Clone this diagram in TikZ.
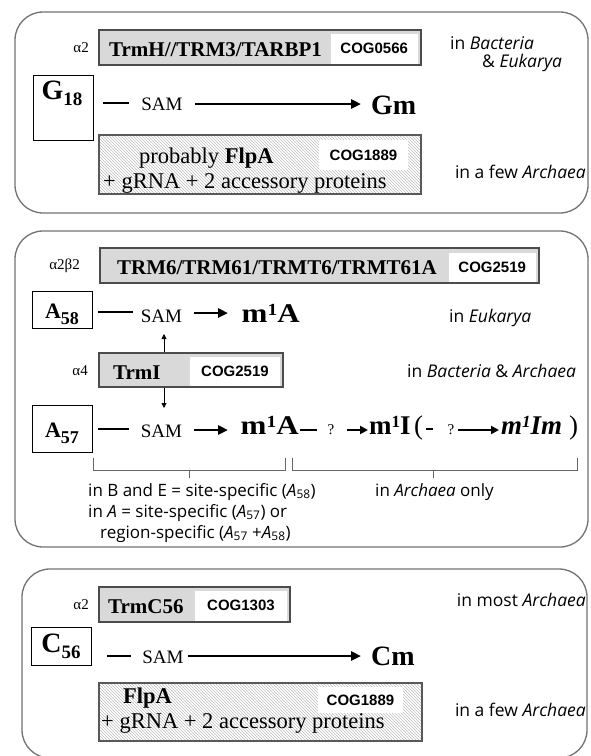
\documentclass[tikz,border=0pt]{standalone}
\usepackage{fontspec}
\setmainfont{Liberation Serif}
\newfontfamily\cogfam{Liberation Sans}
\newfontfamily\comicfam{Open Sans}
\usetikzlibrary{arrows.meta,patterns,fit}
\newcommand{\setfs}[1]{\fontsize{#1}{#1}\selectfont}
\tikzset{
 panel/.style={draw=black!55, line width=1.3pt, rounded corners=28pt, inner sep=0pt},
 graybox/.style={draw=black!70, fill=black!15, line width=1.3pt, inner sep=0pt},
 whitebox/.style={fill=white, inner sep=0pt},
 cog/.style={font=\cogfam\bfseries\setfs{15}, inner sep=0pt},
 hatchbox/.style={draw=black!65, line width=1.3pt, pattern=north west lines, pattern color=black!25, inner sep=0pt},
 sitebox/.style={draw=black, line width=0.9pt, fill=white, inner sep=0pt},
 enz/.style={font=\bfseries\setfs{21}, inner sep=0pt},
 prod/.style={font=\bfseries\setfs{27}, inner sep=0pt},
 big/.style={font=\bfseries\setfs{28}, inner sep=0pt},
 samt/.style={font=\setfs{19}, inner sep=0pt},
 greek/.style={font=\setfs{15}, inner sep=0pt},
 where/.style={font=\comicfam\setfs{17.5}, inner sep=0pt},
 note/.style={font=\comicfam\setfs{17}, inner sep=0pt},
 hatcht/.style={font=\setfs{22.5}, inner sep=0pt},
 qm/.style={font=\setfs{15}, inner sep=0pt},
 bar/.style={line width=2.8pt},
 rxn/.style={line width=2.8pt, -{Triangle[length=10pt,width=9pt]}},
 srxn/.style={line width=2.6pt, -{Triangle[length=8pt,width=8pt]}},
 vline/.style={line width=0.8pt, -{Triangle[length=5pt,width=5pt]}},
 brk/.style={draw=black!60, line width=0.9pt},
}
\begin{document}
\begin{tikzpicture}[x=1pt,y=-1pt]
\useasboundingbox (0,0) rectangle (590,756);
\fill[white] (0,0) rectangle (590,756);

% ---------------- Panel 1
\node[panel, fit={(15,12)(588,213)}] (p1) {};
\node[greek, anchor=east] (al1) at (89,47.5) {α2};
\node[graybox, fit={(99,30)(421,65)}] (e1) {};
\node[whitebox, fit={(331,34)(417.5,63.5)}] (w1) {};
\node[cog] (c1) at (w1.center) {COG0566};
\node[enz, anchor=base west] (e1t) at (109,56.5) {TrmH//TRM3/TARBP1};
\node[where, anchor=west] (sp1a) at (450,43.5) {in \textit{Bacteria}};
\node[where, anchor=west] (sp1b) at (482,63) {\& \textit{Eukarya}};
\node[sitebox, fit={(33,75)(93,140)}] (s1) {};
\node[big, anchor=base] (s1t) at (62,99) {G\lower6pt\hbox{\setfs{19}18}};
\coordinate (b1a) at (103,103); \coordinate (b1b) at (129,103);
\draw[bar] (b1a) -- (b1b);
\node[samt, anchor=base] (sam1) at (162,110) {SAM};
\coordinate (r1a) at (195,104); \coordinate (r1b) at (361,104);
\draw[rxn] (r1a) -- (r1b);
\node[big, anchor=base west] (pr1) at (371,114) {Gm};
\node[hatchbox, fit={(99,135)(421,194)}] (h1) {};
\node[whitebox, fit={(319,140)(408,170)}] (w1b) {};
\node[cog] (c1b) at (w1b.center) {COG1889};
\node[hatcht, anchor=base west] (h1a) at (139,163) {probably \textbf{FlpA}};
\node[hatcht, anchor=base west] (h1b) at (103,188) {+ gRNA + 2 accessory proteins};
\node[where, anchor=east] (sp1c) at (586,172) {in a few \textit{Archaea}};

% ---------------- Panel 2
\node[panel, fit={(15,231)(588,547)}] (p2) {};
\node[greek, anchor=east] (al2) at (80,265.5) {α2β2};
\node[graybox, fit={(100,248)(539,283)}] (e2) {};
\node[whitebox, fit={(449,252.5)(535.5,281.5)}] (w2) {};
\node[cog] (c2) at (w2.center) {COG2519};
\node[enz, anchor=base east] (e2t) at (437,274.5) {TRM6/TRM61/TRMT6/TRMT61A};
\node[sitebox, fit={(32,291)(92,328)}] (s2) {};
\node[font=\bfseries\setfs{22}, inner sep=0pt, anchor=base] (s2t) at (62,318) {A\lower6pt\hbox{\setfs{18}58}};
\coordinate (b2a) at (98,312); \coordinate (b2b) at (133,312);
\draw[bar] (b2a) -- (b2b);
\node[samt, anchor=base] (sam2) at (161.5,322) {SAM};
\coordinate (r2a) at (194,313); \coordinate (r2b) at (228,313);
\draw[rxn] (r2a) -- (r2b);
\node[prod, anchor=base east] (pr2) at (300,322) {\scalebox{1.15}[1]{m\raise6.5pt\hbox{\setfs{17}1}A}};
\node[where, anchor=west] (sp2a) at (449,318) {in \textit{Eukarya}};

\node[graybox, fit={(99,353)(283,387)}] (e3) {};
\node[whitebox, fit={(190,357)(280,385.5)}] (w3) {};
\node[cog] (c3) at (w3.center) {COG2519};
\node[enz, anchor=base west] (e3t) at (113,379) {TrmI};
\node[greek, anchor=east] (al3) at (88,371) {α4};
\node[where, anchor=west] (sp2b) at (407,371) {in \textit{Bacteria} \& \textit{Archaea}};
\coordinate (up) at (164,334);
\draw[vline] (up |- e3.north) -- (up);
\coordinate (dn) at (164,408);
\draw[vline] (dn |- e3.south) -- (dn);

\node[sitebox, fit={(32,405)(92,452)}] (s3) {};
\node[font=\bfseries\setfs{22}, inner sep=0pt, anchor=base] (s3t) at (62,437) {A\lower6pt\hbox{\setfs{18}57}};
\coordinate (b3a) at (98,429); \coordinate (b3b) at (129,429);
\draw[bar] (b3a) -- (b3b);
\node[samt, anchor=base] (sam3) at (161.5,437) {SAM};
\coordinate (r3a) at (194,430); \coordinate (r3b) at (228,430);
\draw[rxn] (r3a) -- (r3b);
\node[prod, anchor=base east] (pr3) at (299,434) {\scalebox{1.15}[1]{m\raise6.5pt\hbox{\setfs{17}1}A}};
\coordinate (d1a) at (300,430); \coordinate (d1b) at (317,430);
\draw[bar] (d1a) -- (d1b);
\node[qm, anchor=base] (q1) at (331,434) {?};
\coordinate (r4a) at (347,430); \coordinate (r4b) at (368,430);
\draw[srxn] (r4a) -- (r4b);
\node[prod, anchor=base west] (pr4) at (369,434) {m\raise6.5pt\hbox{\setfs{17}1}I};
\node[font=\setfs{27}, inner sep=0pt, anchor=base west] (lp) at (414,434) {(};
\coordinate (d2a) at (426,429); \coordinate (d2b) at (433,429);
\draw[bar] (d2a) -- (d2b);
\node[qm, anchor=base] (q2) at (451,434) {?};
\coordinate (r5a) at (458,430); \coordinate (r5b) at (499,430);
\draw[srxn] (r5a) -- (r5b);
\node[font=\bfseries\itshape\setfs{27}, inner sep=0pt, anchor=base west] (pr5) at (501,434) {m\raise6.5pt\hbox{\setfs{17}1}Im};
\node[font=\setfs{27}, inner sep=0pt, anchor=base west] (rp) at (569,434) {)};

\coordinate (k1a) at (93,458); \coordinate (k1b) at (93,470);
\coordinate (k1c) at (285,470); \coordinate (k1d) at (285,458);
\coordinate (k1m) at (189,470); \coordinate (k1n) at (189,478);
\draw[brk] (k1a) -- (k1b) -- (k1c) -- (k1d);
\draw[brk] (k1m) -- (k1n);
\coordinate (k2a) at (292,458); \coordinate (k2b) at (292,470);
\coordinate (k2c) at (577,470); \coordinate (k2d) at (577,458);
\coordinate (k2m) at (433,470); \coordinate (k2n) at (433,478);
\draw[brk] (k2a) -- (k2b) -- (k2c) -- (k2d);
\draw[brk] (k2m) -- (k2n);

\node[note, anchor=base west] (n1) at (88,496) {in B and E = site-specific (\textit{A}\textsubscript{58})};
\node[note, anchor=base west] (n2) at (88,517) {in \textit{A} = site-specific (\textit{A}\textsubscript{57}) or};
\node[note, anchor=base west] (n3) at (100,538) {region-specific (\textit{A}\textsubscript{57} +\textit{A}\textsubscript{58})};
\node[note, anchor=base west] (n4) at (375,496) {in \textit{Archaea} only};

% ---------------- Panel 3
\begin{scope}
\clip (0,0) rectangle (590,756);
\node[panel, fit={(22,569)(587,758)}] (p3) {};
\end{scope}
\node[greek, anchor=east] (al4) at (89,604.5) {α2};
\node[graybox, fit={(99,587)(290,622)}] (e4) {};
\node[whitebox, fit={(195,591)(287,620.5)}] (w4) {};
\node[cog] (c4) at (w4.center) {COG1303};
\node[enz, anchor=base west] (e4t) at (108,613.5) {TrmC56};
\node[where, anchor=east] (sp3a) at (586,600) {in most \textit{Archaea}};
\node[sitebox, fit={(31,627)(91,665)}] (s4) {};
\node[big, anchor=base] (s4t) at (61,652) {C\lower6pt\hbox{\setfs{19}56}};
\coordinate (b4a) at (107,656); \coordinate (b4b) at (131,656);
\draw[bar] (b4a) -- (b4b);
\node[samt, anchor=base] (sam4) at (163,663) {SAM};
\coordinate (r6a) at (188,656); \coordinate (r6b) at (361,656);
\draw[rxn] (r6a) -- (r6b);
\node[big, anchor=base west] (pr6) at (371,665) {Cm};
\node[hatchbox, fit={(99,683)(422,741)}] (h4) {};
\node[whitebox, fit={(318,687)(403,713)}] (w4b) {};
\node[cog] (c4b) at (w4b.center) {COG1889};
\node[hatcht, anchor=base west, font=\bfseries\setfs{22.5}] (h4a) at (123,703) {FlpA};
\node[hatcht, anchor=base west] (h4b) at (101,728) {+ gRNA + 2 accessory proteins};
\node[where, anchor=east] (sp3b) at (586,710) {in a few \textit{Archaea}};
\end{tikzpicture}
\end{document}
